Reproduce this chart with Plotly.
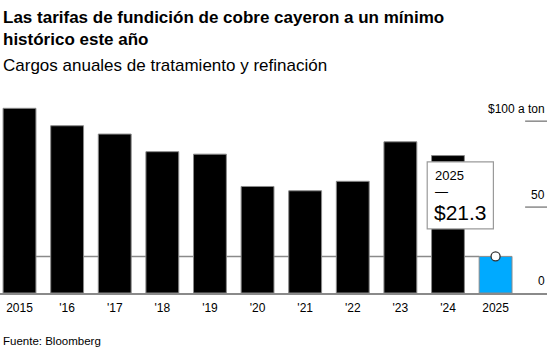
import plotly.graph_objects as go

years = ["2015", "'16", "'17", "'18", "'19", "'20", "'21", "'22", "'23", "'24", "2025"]
values = [107.5, 97.35, 92.5, 82.25, 80.8, 62.0, 59.5, 65.0, 88.0, 80.0, 21.3]
bar_colors = ["#000000"] * 10 + ["#00AAFF"]
ytick_vals = [0, 50, 100]
ytick_text = ["0", "50", "$100 a ton"]

FONT = "Liberation Sans, Arial, sans-serif"
xs = list(range(len(years)))

fig = go.Figure()
fig.add_trace(go.Bar(
    x=xs, y=values, marker=dict(color=bar_colors, line=dict(color="#8a8a8a", width=1)),
    width=0.69, hoverinfo="skip"))
fig.add_trace(go.Scatter(
    x=[xs[-1]], y=[values[-1]], mode="markers",
    marker=dict(size=9, color="white", line=dict(color="#333333", width=1.3)),
    hoverinfo="skip"))

# reference line at latest value
fig.add_shape(type="line", xref="x", yref="y", x0=-0.345, x1=xs[-1] - 0.345,
              y0=values[-1], y1=values[-1], line=dict(color="#8a8a8a", width=1.5),
              layer="below")

# right-side y tick lines & labels
for v, t in zip(ytick_vals, ytick_text):
    if v > 0:
        fig.add_shape(type="line", xref="paper", yref="y", x0=0.96, x1=1.0,
                      y0=v, y1=v, line=dict(color="#8a8a8a", width=1.5))
    fig.add_annotation(xref="paper", yref="y", x=1.0, y=v, text=t, showarrow=False,
                       xanchor="right", yanchor="bottom", yshift=3,
                       font=dict(family=FONT, size=12, color="#000"))

# callout box
fig.add_shape(type="rect", xref="paper", yref="paper", x0=0.781, x1=0.902,
              y0=0.339, y1=0.694, fillcolor="white",
              line=dict(color="#9a9a9a", width=1.2), layer="above")
fig.add_annotation(xref="paper", yref="paper", x=0.792, y=0.62, text=years[-1],
                   showarrow=False, xanchor="left", yanchor="middle",
                   font=dict(family=FONT, size=13, color="#000"))
fig.add_annotation(xref="paper", yref="paper", x=0.792, y=0.535, text="—",
                   showarrow=False, xanchor="left", yanchor="middle",
                   font=dict(family=FONT, size=13, color="#000"))
fig.add_annotation(xref="paper", yref="paper", x=0.790, y=0.425, text=f"${values[-1]:.1f}",
                   showarrow=False, xanchor="left", yanchor="middle",
                   font=dict(family=FONT, size=21, color="#000"))

# titles
fig.add_annotation(xref="paper", yref="paper", x=0, xshift=1, y=1, yshift=98,
                   text="<b>Las tarifas de fundición de cobre cayeron a un mínimo<br>histórico este año</b>",
                   showarrow=False, xanchor="left", yanchor="top", align="left",
                   font=dict(family=FONT, size=17, color="#000"))
fig.add_annotation(xref="paper", yref="paper", x=0, xshift=1, y=1, yshift=50,
                   text="Cargos anuales de tratamiento y refinación",
                   showarrow=False, xanchor="left", yanchor="top", align="left",
                   font=dict(family=FONT, size=17, color="#000"))
fig.add_annotation(xref="paper", yref="paper", x=0, xshift=1, y=0, yshift=-40,
                   text="Fuente: Bloomberg",
                   showarrow=False, xanchor="left", yanchor="top", align="left",
                   font=dict(family=FONT, size=11.5, color="#000"))

fig.update_layout(
    width=558, height=350, margin=dict(l=0, r=11, t=104, b=57),
    paper_bgcolor="white", plot_bgcolor="rgba(0,0,0,0)", showlegend=False,
    xaxis=dict(range=[-0.41, 11.08], tickvals=xs, ticktext=years, showgrid=False,
               zeroline=False, showline=True, linecolor="#8a8a8a", linewidth=1.5,
               ticks="", ticklabelstandoff=3,
               tickfont=dict(family=FONT, size=12, color="#000")),
    yaxis=dict(range=[0, 110], showgrid=False, zeroline=False, showticklabels=False,
               showline=False, ticks=""),
    bargap=0.3,
)

fig.write_html("out.html")
